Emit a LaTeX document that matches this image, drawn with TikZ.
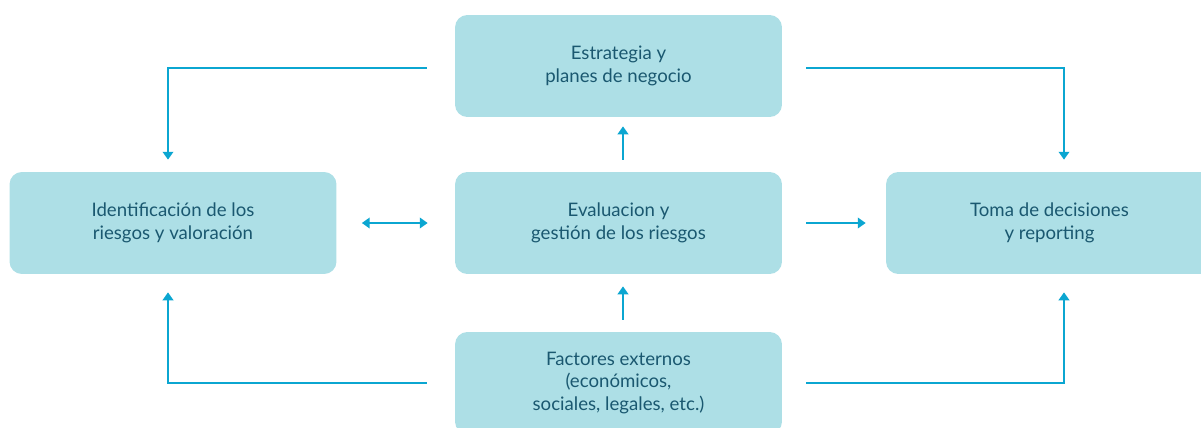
\documentclass[tikz,border=0pt]{standalone}
\usepackage{fontspec}
\setmainfont{Lato}
\usetikzlibrary{calc,arrows.meta}
\definecolor{boxfill}{HTML}{ADDFE6}
\definecolor{flow}{HTML}{0BA6D1}
\definecolor{ink}{HTML}{1A5870}
\tikzset{
  box/.style={fill=boxfill, rounded corners=7pt, minimum width=6.54cm, minimum height=2.04cm,
    inner sep=0pt, align=center, text=ink, font=\fontsize{10.6}{12.9}\selectfont},
  arr/.style={draw=flow, line width=1.2pt, -{Triangle[width=6pt,length=4.5pt]}},
  darr/.style={arr, {Triangle[width=6pt,length=4.5pt]}-{Triangle[width=6pt,length=4.5pt]}}
}

\begin{document}
\begin{tikzpicture}[x=0.02cm,y=-0.02cm]
\useasboundingbox (0,0) rectangle (1201,427);
% boxes
\node[box] (strat) at (618.5,66) {Estrategia y\\planes de negocio};
\node[box] (eval) at (618.5,223) {Evaluacion y\\gestión de los riesgos};
\node[box] (ident) at (173,223) {Identificación de los\\riesgos y valoración};
\node[box] (toma) at (1049.5,223) {Toma de decisiones\\y reporting};
\node[box] (ext) at (618.5,383) {Factores externos\\(económicos,\\sociales, legales, etc.)};

% loops from strategy
\draw[arr] ($(strat.west)+(-28,2)$) -| ($(ident.north)+(-5,-12)$);
\draw[arr] ($(strat.east)+(24,2)$) -| ($(toma.north)+(14.5,-12)$);
% loops from external factors
\draw[arr] ($(ext.west)+(-28,0)$) -| ($(ident.south)+(-5,18)$);
\draw[arr] ($(ext.east)+(24,0)$) -| ($(toma.south)+(14.5,18)$);

% middle row
\draw[darr] ($(ident.east)+(25,0)$) -- ($(eval.west)+(-27,0)$);
\draw[arr] ($(eval.east)+(24,0)$) -- ($(toma.west)+(-20,0)$);
\draw[arr] ($(eval.north)+(4.5,-12)$) -- ($(strat.south)+(4.5,9)$);
\draw[arr] ($(ext.north)+(4.5,-12)$) -- ($(eval.south)+(4.5,12)$);
\end{tikzpicture}
\end{document}
